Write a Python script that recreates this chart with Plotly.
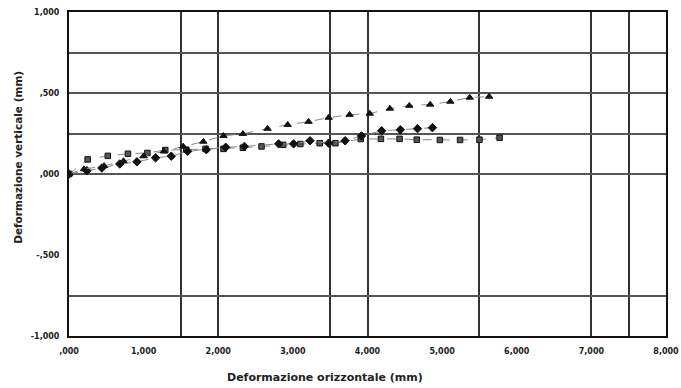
import plotly.graph_objects as go

# ---- data ----
tri_x = [0.0, 0.20, 0.47, 0.73, 1.00, 1.27, 1.53, 1.80, 2.07, 2.33, 2.66, 2.93, 3.21, 3.48, 3.76, 4.03, 4.30, 4.56, 4.84, 5.11, 5.37, 5.63]
tri_y = [0.0, 0.03, 0.05, 0.08, 0.11, 0.14, 0.17, 0.20, 0.236, 0.248, 0.28, 0.304, 0.323, 0.348, 0.366, 0.373, 0.404, 0.422, 0.429, 0.447, 0.472, 0.478]

dia_x = [0.0, 0.24, 0.44, 0.68, 0.91, 1.16, 1.37, 1.59, 1.84, 2.10, 2.35, 2.81, 3.01, 3.23, 3.48, 3.70, 3.92, 4.19, 4.44, 4.67, 4.87]
dia_y = [0.0, 0.02, 0.037, 0.062, 0.075, 0.10, 0.11, 0.14, 0.15, 0.165, 0.17, 0.186, 0.186, 0.205, 0.19, 0.205, 0.235, 0.267, 0.273, 0.28, 0.286]

sq_x = [0.0, 0.25, 0.52, 0.79, 1.05, 1.29, 1.57, 1.83, 2.07, 2.33, 2.58, 2.87, 3.10, 3.36, 3.57, 3.91, 4.18, 4.43, 4.66, 4.97, 5.24, 5.50, 5.77]
sq_y = [0.0, 0.09, 0.112, 0.125, 0.13, 0.148, 0.15, 0.155, 0.155, 0.162, 0.17, 0.18, 0.185, 0.19, 0.19, 0.216, 0.217, 0.217, 0.212, 0.21, 0.21, 0.212, 0.224]

x_ticks = [0, 1, 2, 3, 4, 5, 6, 7, 8]
x_labels = [",000", "1,000", "2,000", "3,000", "4,000", "5,000", "6,000", "7,000", "8,000"]
y_ticks = [1.0, 0.5, 0.0, -0.5, -1.0]
y_labels = ["1,000", ",500", ",000", "-,500", "-1,000"]

x_grid = [1.5, 2.0, 3.5, 4.0, 5.5, 7.0, 7.5]
y_grid = [0.75, 0.5, 0.25, 0.0, -0.75]

x_title = "Deformazione orizzontale (mm)"
y_title = "Deformazione verticale (mm)"

FONT = "DejaVu Sans, Liberation Sans, Arial, sans-serif"
TXT = "#222222"

fig = go.Figure()

# invisible trace on primary axes (carry tick labels)
fig.add_trace(go.Scatter(x=[0, 8], y=[-1, 1], mode="markers",
                         marker=dict(opacity=0), hoverinfo="skip",
                         showlegend=False, xaxis="x", yaxis="y"))

series = [
    (sq_x, sq_y, "square", "#555555", 5.5),
    (dia_x, dia_y, "diamond", "#111111", 6.5),
    (tri_x, tri_y, "triangle-up", "#111111", 6.5),
]
for xs, ys, sym, col, sz in series:
    fig.add_trace(go.Scatter(
        x=xs, y=ys, mode="lines+markers",
        line=dict(color="#8a8a8a", width=1, dash="dash"),
        marker=dict(symbol=sym, size=sz, color=col,
                    line=dict(color="#111111", width=1)),
        showlegend=False, xaxis="x2", yaxis="y2"))

fig.update_layout(
    width=681, height=388,
    margin=dict(l=69, r=15, t=12, b=52),
    paper_bgcolor="white", plot_bgcolor="white",
    font=dict(family=FONT, size=9, color=TXT),
    xaxis=dict(range=[0, 8], tickvals=x_ticks,
               ticktext=["<b>%s</b>" % t for t in x_labels],
               showgrid=False, zeroline=False, automargin=False,
               ticklabeloverflow="allow", ticklabelstandoff=6,
               showline=True, mirror=True, linecolor="#111111", linewidth=2,
               ticks="", tickfont=dict(family=FONT, size=8, color=TXT)),
    yaxis=dict(range=[-1, 1], tickvals=y_ticks,
               ticktext=["<b>%s</b>" % t for t in y_labels],
               showgrid=False, zeroline=False, automargin=False,
               ticklabeloverflow="allow", ticklabelstandoff=6,
               showline=True, mirror=True, linecolor="#111111", linewidth=2,
               ticks="", tickfont=dict(family=FONT, size=8, color=TXT)),
    xaxis2=dict(range=[0, 8], overlaying="x", tickvals=x_grid,
                showticklabels=False, ticks="", showgrid=True,
                gridcolor="#333333", gridwidth=1.5, zeroline=False,
                showline=False, automargin=False),
    yaxis2=dict(range=[-1, 1], overlaying="y", tickvals=y_grid,
                showticklabels=False, ticks="", showgrid=True,
                gridcolor="#555555", gridwidth=1.5, zeroline=False,
                showline=False, automargin=False),
    annotations=[
        dict(text="<b>%s</b>" % x_title, xref="paper", yref="paper",
             x=0.428, y=-0.128, xanchor="center", yanchor="middle",
             showarrow=False, font=dict(family=FONT, size=11, color=TXT)),
        dict(text="<b>%s</b>" % y_title, xref="paper", yref="paper",
             x=-0.086, y=0.552, xanchor="center", yanchor="middle",
             textangle=-90, showarrow=False,
             font=dict(family=FONT, size=10.5, color=TXT)),
    ],
)

fig.write_html("out.html")
